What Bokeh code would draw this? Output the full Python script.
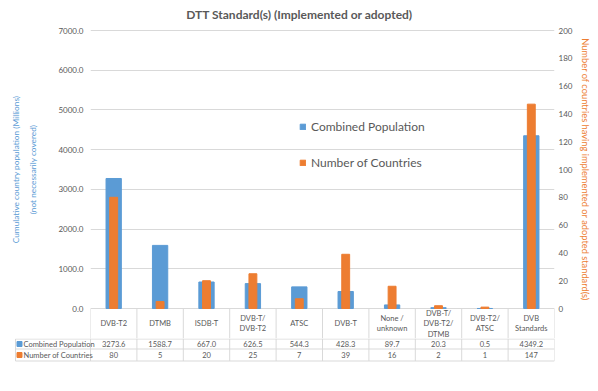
from bokeh.plotting import figure
from bokeh.models import (ColumnDataSource, Range1d, LinearAxis, FixedTicker,
                          NumeralTickFormatter, FactorRange, Legend, LegendItem)
from bokeh.layouts import column, row
from bokeh.embed import file_html
from bokeh.resources import INLINE
from bokeh.core.properties import value

# ---- data ----
categories = ["DVB-T2", "DTMB", "ISDB-T", "DVB-T/\nDVB-T2", "ATSC", "DVB-T",
              "None /\nunknown", "DVB-T/\nDVB-T2/\nDTMB", "DVB-T2/\nATSC", "DVB\nStandards"]
population = [3273.6, 1588.7, 667.0, 626.5, 544.3, 428.3, 89.7, 20.3, 0.5, 4349.2]
countries = [80, 5, 20, 25, 7, 39, 16, 2, 1, 147]
series_names = ["Combined Population", "Number of Countries"]
left_ticks = [0, 1000, 2000, 3000, 4000, 5000, 6000, 7000]
right_ticks = [0, 20, 40, 60, 80, 100, 120, 140, 160, 180, 200]
title_text = "DTT Standard(s) (Implemented or adopted)"
left_label = "Cumulative country population (Millions)\n(not necessarily covered)"
right_label = "Number of countries having implemented or adopted standard(s)"

BLUE = "#5b9bd5"
ORANGE = "#ed7d31"
TXT = "#595959"
GRID = "#d9d9d9"
FONT = "Lato"

W = 598
L_BORDER, R_BORDER = 90, 44
TOP_PX = 30            # space above the top gridline (title lives here)
PLOT_PX = 278          # height of the value area (0 .. max)
EXT = 30               # header row of the table lives below zero in the top figure
TOP_H = TOP_PX + PLOT_PX + EXT
TAB_H = 391 - TOP_H
H_HEAD, H_R1, H_R2 = -30.5, -40.5, -52.5   # table row lines, px below the baseline

lmax, rmax = left_ticks[-1], right_ticks[-1]


def ly(px):
    """px offset from the baseline -> left-axis data units"""
    return px / PLOT_PX * lmax


def ry(px):
    return px / PLOT_PX * rmax


n = len(categories)

# ---- main chart ----
p = figure(width=W, height=TOP_H,
           x_range=FactorRange(*categories, range_padding=0),
           y_range=Range1d(ly(-EXT), ly(PLOT_PX + TOP_PX)),
           output_backend="svg", toolbar_location=None,
           x_axis_location=None,
           min_border_left=L_BORDER, min_border_right=R_BORDER,
           min_border_top=0, min_border_bottom=0)
p.outline_line_color = None
p.extra_y_ranges = {"right": Range1d(ry(-EXT), ry(PLOT_PX + TOP_PX))}

src = ColumnDataSource(dict(cat=categories, pop=population, cnt=countries))
r1 = p.vbar(x="cat", top="pop", width=0.33, source=src, color=BLUE)
r2 = p.vbar(x="cat", top="cnt", width=0.17, source=src, color=ORANGE, y_range_name="right")

# title
p.text(x=[n / 2 - 23 / ((W - L_BORDER - R_BORDER) / n)], y=[ly(PLOT_PX + 16)], text=[title_text],
       text_align="center", text_baseline="middle", text_font=value(FONT),
       text_font_size="12px", text_font_style="bold", text_color=TXT)

# table header row (category names) below the baseline
xs = list(range(n + 1))
p.segment(x0=xs, y0=[0] * (n + 1), x1=xs, y1=[ly(-EXT)] * (n + 1), line_color=GRID)
centers = [i + 0.5 for i in range(n)]
p.text(x=centers, y=[ly(H_HEAD / 2)] * n, text=categories, text_align="center",
       text_baseline="middle", text_font=value(FONT), text_font_size="7.5px",
       text_color=TXT, text_line_height=1.15)

ya = p.yaxis[0]
ya.ticker = FixedTicker(ticks=left_ticks)
ya.formatter = NumeralTickFormatter(format="0.0")
ya.axis_line_color = None
ya.major_tick_line_color = None
ya.minor_tick_line_color = None
ya.major_tick_out = 0
ya.minor_tick_out = 0
ya.major_label_text_font_size = "8px"
ya.major_label_text_color = TXT
ya.major_label_text_font = FONT
ya.major_label_standoff = 7
ya.axis_label = left_label
ya.axis_label_text_color = BLUE
ya.axis_label_text_font_size = "8.3px"
ya.axis_label_text_line_height = 1.7
ya.axis_label_text_font_style = "normal"
ya.axis_label_text_font = FONT
ya.axis_label_standoff = 17

p.ygrid.ticker = ya.ticker
p.ygrid.grid_line_color = GRID
p.xgrid.grid_line_color = None

ra = LinearAxis(y_range_name="right", ticker=FixedTicker(ticks=right_ticks))
ra.axis_line_color = None
ra.major_tick_line_color = None
ra.minor_tick_line_color = None
ra.major_tick_out = 0
ra.minor_tick_out = 0
ra.major_label_text_font_size = "8px"
ra.major_label_text_color = TXT
ra.major_label_text_font = FONT
ra.major_label_standoff = 4
ra.axis_label = right_label
ra.axis_label_text_color = ORANGE
ra.axis_label_text_font_size = "9.3px"
ra.axis_label_text_font_style = "normal"
ra.axis_label_text_font = FONT
ra.axis_label_standoff = 5
p.add_layout(ra, "right")

legend = Legend(items=[LegendItem(label=series_names[0], renderers=[r1]),
                       LegendItem(label=series_names[1], renderers=[r2])],
                location=(209, 138 + EXT))
legend.label_text_font_size = "12px"
legend.label_text_color = TXT
legend.label_text_font = FONT
legend.glyph_width = 7
legend.glyph_height = 7
legend.label_height = 16
legend.spacing = 20
legend.padding = 0
legend.margin = 0
legend.label_standoff = 5
legend.border_line_color = None
legend.background_fill_alpha = 0
p.add_layout(legend)

# ---- data rows of the table ----
COLW = (W - L_BORDER - R_BORDER) / n
lab_w = 75 / COLW
t = figure(width=W, height=TAB_H,
           x_range=Range1d(-(76) / COLW, n), y_range=Range1d(-(EXT + TAB_H), -EXT),
           output_backend="svg", toolbar_location=None,
           x_axis_location=None, y_axis_location=None,
           min_border_left=L_BORDER - 76, min_border_right=R_BORDER,
           min_border_top=0, min_border_bottom=0)
t.outline_line_color = None
t.xgrid.visible = False
t.ygrid.visible = False

t.segment(x0=[-lab_w] * 3, y0=[H_HEAD, H_R1, H_R2],
          x1=[n] * 3, y1=[H_HEAD, H_R1, H_R2], line_color=GRID, line_width=1)
t.segment(x0=xs, y0=[-EXT] * len(xs), x1=xs, y1=[H_R2] * len(xs), line_color=GRID)
t.segment(x0=[-lab_w], y0=[H_HEAD], x1=[-lab_w], y1=[H_R2], line_color=GRID)

y1c = (H_HEAD + H_R1) / 2
y2c = (H_R1 + H_R2) / 2
t.text(x=centers, y=[y1c] * n, text=[f"{v:.1f}" for v in population],
       text_align="center", text_baseline="middle", text_font=value(FONT),
       text_font_size="7.5px", text_color=TXT)
t.text(x=centers, y=[y2c] * n, text=[str(v) for v in countries],
       text_align="center", text_baseline="middle", text_font=value(FONT),
       text_font_size="7.5px", text_color=TXT)
key_x = -lab_w + 4 / COLW
t.rect(x=[key_x, key_x], y=[y1c, y2c], width=5 / COLW, height=5,
       color=[BLUE, ORANGE])
t.text(x=[key_x + 4 / COLW] * 2, y=[y1c, y2c], text=series_names,
       text_align="left", text_baseline="middle", text_font=value(FONT),
       text_font_size="7.5px", text_color=TXT)

layout = column(p, row(t))
open("out.html", "w").write(file_html(layout, INLINE))
